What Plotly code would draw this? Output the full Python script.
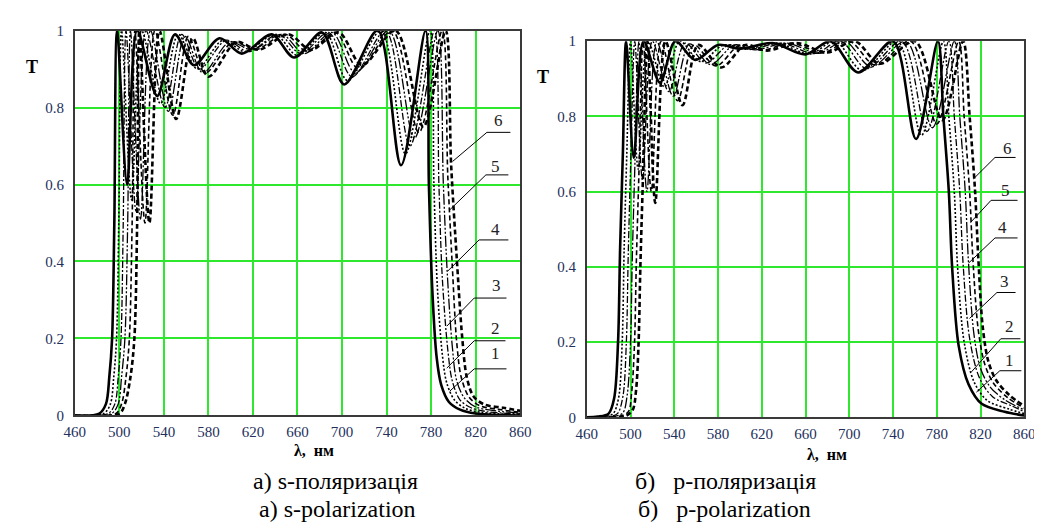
import plotly.graph_objects as go

# ---------------- data: s-polarization (left panel) ----------------
S_X1 = [460, 482, 488, 491, 493.5, 495.5, 498, 507, 516, 534, 550, 567, 590, 610, 637, 657, 682, 702, 732, 753, 775, 778, 781, 785, 789, 796, 806, 820, 860]
S_Y1 = [0, 0.005, 0.03, 0.1, 0.2, 0.5, 1.0, 0.60, 1.0, 0.83, 0.99, 0.91, 0.98, 0.94, 0.99, 0.93, 0.995, 0.86, 1.0, 0.65, 1.0, 0.6, 0.33, 0.15, 0.08, 0.035, 0.015, 0.005, 0]
S_X2 = [460, 486, 492, 495, 497.5, 499.5, 502, 511, 520, 537, 553, 570, 593, 613, 640, 660, 685, 705, 735, 757, 779, 782.5, 785.5, 790, 794, 801, 811, 825, 860]
S_Y2 = [0, 0.005, 0.03, 0.1, 0.2, 0.5, 1.0, 0.56, 1.0, 0.81, 0.99, 0.90, 0.975, 0.945, 0.99, 0.935, 0.995, 0.87, 1.0, 0.68, 1.0, 0.6, 0.34, 0.16, 0.085, 0.04, 0.018, 0.008, 0.002]
S_X3 = [460, 490, 496, 499, 501.5, 503.5, 506, 515, 524, 541, 556, 572, 596, 616, 643, 663, 688, 709, 739, 761, 783, 787, 790, 795, 799, 806, 816, 830, 860]
S_Y3 = [0, 0.005, 0.03, 0.1, 0.2, 0.5, 1.0, 0.53, 1.0, 0.80, 0.99, 0.90, 0.975, 0.945, 0.99, 0.94, 0.995, 0.88, 1.0, 0.70, 1.0, 0.6, 0.36, 0.17, 0.09, 0.04, 0.02, 0.01, 0.004]
S_X4 = [460, 493, 499, 502, 505, 507.5, 510, 519, 528, 544, 559, 575, 599, 619, 646, 666, 691, 712, 742, 765, 786, 791, 794.5, 799, 803, 810, 820, 835, 860]
S_Y4 = [0, 0.005, 0.03, 0.1, 0.2, 0.5, 1.0, 0.51, 1.0, 0.79, 0.985, 0.89, 0.97, 0.95, 0.99, 0.94, 0.995, 0.89, 1.0, 0.72, 1.0, 0.6, 0.37, 0.18, 0.09, 0.045, 0.022, 0.013, 0.006]
S_X5 = [460, 497, 502, 506, 509, 511.5, 514, 523, 532, 548, 562, 577, 602, 622, 649, 669, 694, 715, 745, 769, 790, 795, 799, 803, 807, 814, 824, 840, 860]
S_Y5 = [0, 0.005, 0.03, 0.1, 0.2, 0.5, 1.0, 0.50, 1.0, 0.78, 0.985, 0.89, 0.97, 0.95, 0.99, 0.945, 0.995, 0.90, 1.0, 0.735, 1.0, 0.62, 0.39, 0.19, 0.1, 0.048, 0.025, 0.016, 0.008]
S_X6 = [460, 500, 505, 510, 513.5, 516, 518, 527, 536, 551, 566, 580, 605, 625, 652, 672, 697, 718, 748, 773, 793, 798, 803, 808, 812, 818, 828, 845, 860]
S_Y6 = [0, 0.005, 0.03, 0.1, 0.2, 0.5, 1.0, 0.50, 1.0, 0.77, 0.98, 0.88, 0.97, 0.95, 0.99, 0.95, 0.995, 0.91, 1.0, 0.75, 1.0, 0.65, 0.41, 0.2, 0.1, 0.05, 0.028, 0.02, 0.012]

# ---------------- data: p-polarization (right panel) ----------------
P_X1 = [460, 470, 480, 485, 488.6, 490.5, 493, 496, 503, 512, 527, 541, 559, 580, 600, 630, 660, 683, 708, 740, 761, 781, 786, 791, 794, 800, 809, 821, 842, 860]
P_Y1 = [0, 0.002, 0.01, 0.05, 0.2, 0.45, 0.7, 1.0, 0.69, 1.0, 0.89, 1.0, 0.95, 0.99, 0.98, 0.995, 0.965, 1.0, 0.917, 1.0, 0.74, 1.0, 0.8, 0.6, 0.4, 0.19, 0.088, 0.036, 0.015, 0.005]
P_X2 = [460, 474, 484, 489, 492.4, 494.2, 496.6, 500, 507, 516, 531, 545, 564, 585, 605, 634, 664, 687, 712, 744, 766, 786, 791, 796, 799, 805, 814, 826, 846, 860]
P_Y2 = [0, 0.002, 0.01, 0.05, 0.2, 0.45, 0.7, 1.0, 0.66, 1.0, 0.878, 1.0, 0.946, 0.99, 0.979, 0.995, 0.966, 1.0, 0.922, 1.0, 0.75, 1.0, 0.8, 0.6, 0.4, 0.2, 0.095, 0.045, 0.022, 0.01]
P_X3 = [460, 479, 488, 493, 496.2, 497.9, 500.2, 503.9, 511, 520, 535, 550, 569, 590, 609, 638, 668, 692, 716, 748, 771, 791, 796, 801, 804, 810, 819, 831, 849, 860]
P_Y3 = [0, 0.002, 0.01, 0.055, 0.2, 0.43, 0.68, 1.0, 0.63, 1.0, 0.866, 0.995, 0.942, 0.99, 0.978, 0.995, 0.967, 1.0, 0.927, 1.0, 0.76, 1.0, 0.8, 0.6, 0.41, 0.21, 0.105, 0.055, 0.03, 0.015]
P_X4 = [460, 484, 493, 497, 500, 501.6, 503.8, 507.7, 515, 524, 539, 554, 573, 595, 614, 643, 672, 696, 720, 752, 776, 796, 801, 806, 809, 814, 820, 829, 843, 860]
P_Y4 = [0, 0.002, 0.012, 0.06, 0.2, 0.42, 0.65, 1.0, 0.6, 1.0, 0.854, 0.993, 0.938, 0.99, 0.977, 0.995, 0.968, 1.0, 0.932, 1.0, 0.77, 1.0, 0.8, 0.6, 0.41, 0.22, 0.13, 0.08, 0.045, 0.02]
P_X5 = [460, 490, 498, 501, 503.7, 505.3, 507.4, 511.6, 519, 528, 543, 558, 578, 600, 620, 647, 676, 700, 724, 756, 780, 800, 805, 810, 813, 818, 824, 832, 845, 860]
P_Y5 = [0, 0.003, 0.015, 0.065, 0.2, 0.41, 0.62, 1.0, 0.6, 1.0, 0.842, 0.99, 0.934, 0.99, 0.976, 0.995, 0.969, 1.0, 0.936, 1.0, 0.78, 1.0, 0.8, 0.6, 0.42, 0.23, 0.14, 0.09, 0.052, 0.025]
P_X6 = [460, 495, 502, 505, 507.4, 509, 511, 515.5, 522.6, 532, 547.5, 562, 583, 605, 625, 652, 680, 705, 728, 760, 785, 804, 810, 815, 818, 822, 827, 834, 846, 860]
P_Y6 = [0, 0.003, 0.02, 0.07, 0.2, 0.4, 0.6, 1.0, 0.57, 1.0, 0.83, 0.99, 0.93, 0.99, 0.975, 0.995, 0.97, 1.0, 0.94, 1.0, 0.79, 1.0, 0.8, 0.6, 0.42, 0.24, 0.15, 0.1, 0.06, 0.03]

X_TICKS = [460, 500, 540, 580, 620, 660, 700, 740, 780, 820, 860]
Y_TICKS = [0, 0.2, 0.4, 0.6, 0.8, 1.0]
Y_TICKTEXT = ["0", "0.2", "0.4", "0.6", "0.8", "1"]
CURVE_NAMES = ["1", "2", "3", "4", "5", "6"]

# label callouts: (text, text_x, text_y, hline_x0, hline_x1, hline_y, end_x, end_y)
LABELS_S = [
    ("6", 840.7, 0.766, 830.1, 851.2, 0.7355, 799.3, 0.66),
    ("5", 838.0, 0.647, 829.2, 849.4, 0.625, 796.7, 0.534),
    ("4", 838.0, 0.484, 823.1, 849.4, 0.456, 794.9, 0.375),
    ("3", 838.9, 0.3375, 818.7, 847.7, 0.305, 794.1, 0.232),
    ("2", 838.0, 0.227, 818.7, 846.8, 0.194, 794.1, 0.123),
    ("1", 838.0, 0.161, 818.7, 847.7, 0.121, 796.7, 0.063),
]
LABELS_P = [
    ("6", 844.8, 0.714, 833.2, 852.0, 0.691, 813.5, 0.634),
    ("5", 843.0, 0.603, 829.6, 853.8, 0.577, 810.8, 0.518),
    ("4", 840.3, 0.505, 833.2, 853.8, 0.477, 809.0, 0.41),
    ("3", 842.1, 0.361, 835.0, 852.0, 0.332, 809.9, 0.263),
    ("2", 846.6, 0.242, 838.5, 856.4, 0.209, 811.7, 0.121),
    ("1", 846.6, 0.152, 837.6, 857.3, 0.124, 816.2, 0.067),
]

S_SERIES = [(S_X1, S_Y1), (S_X2, S_Y2), (S_X3, S_Y3), (S_X4, S_Y4), (S_X5, S_Y5), (S_X6, S_Y6)]
P_SERIES = [(P_X1, P_Y1), (P_X2, P_Y2), (P_X3, P_Y3), (P_X4, P_Y4), (P_X5, P_Y5), (P_X6, P_Y6)]

STYLES = [
    dict(dash="solid", width=2.6),
    dict(dash="2px,2px", width=1.6),
    dict(dash="7px,2px,2px,2px", width=1.3),
    dict(dash="11px,2px,2px,2px,2px,2px", width=1.3),
    dict(dash="5px,3px", width=1.6),
    dict(dash="5px,3px", width=2.6),
]

SERIF = "'Liberation Serif', 'DejaVu Serif', serif"
W, H = 1042, 525
def px(x): return x / W
def py(y): return 1 - y / H

fig = go.Figure()
for panel, series in ((1, S_SERIES), (2, P_SERIES)):
    xa = "x" if panel == 1 else "x2"
    ya = "y" if panel == 1 else "y2"
    for name, (xs, ys), st in zip(CURVE_NAMES, series, STYLES):
        fig.add_trace(go.Scatter(
            x=xs, y=ys, xaxis=xa, yaxis=ya, mode="lines", name=name,
            line=dict(color="black", width=st["width"], dash=st["dash"],
                      shape="spline", smoothing=0.9),
            showlegend=False, hoverinfo="skip"))

GRID = "#2ee82e"
TICKFONT = dict(family=SERIF, size=15, color="#24305c")
common_x = dict(range=[460, 860], tickvals=X_TICKS, showgrid=True, gridcolor=GRID,
                gridwidth=1.5, showline=True, linecolor="#3a3a3a", linewidth=1.5,
                mirror=True, zeroline=False, tickfont=TICKFONT, ticks="",
                ticklabelstandoff=2)
common_y = dict(range=[0, 1], tickvals=Y_TICKS, ticktext=Y_TICKTEXT, showgrid=True,
                gridcolor=GRID, gridwidth=1.5, showline=True, linecolor="#3a3a3a",
                linewidth=1.5, mirror=True, zeroline=False, tickfont=TICKFONT,
                ticks="", ticklabelstandoff=6)

fig.update_layout(
    width=W, height=H, autosize=False,
    margin=dict(l=0, r=0, t=0, b=0),
    paper_bgcolor="white", plot_bgcolor="white",
    font=dict(family=SERIF),
    xaxis=dict(domain=[px(57), px(512)], anchor="y", **common_x),
    yaxis=dict(domain=[py(412), py(15)], anchor="x", **common_y),
    xaxis2=dict(domain=[px(580), px(1027)], anchor="y2", **common_x),
    yaxis2=dict(domain=[py(414), py(26)], anchor="x2", **common_y),
)

shapes = []
annotations = []
for labels, xr, yr in ((LABELS_S, "x", "y"), (LABELS_P, "x2", "y2")):
    for (t, tx, ty, hx0, hx1, hy, ex, ey) in labels:
        shapes.append(dict(type="path", xref=xr, yref=yr,
                           path=f"M {ex},{ey} L {hx0},{hy} L {hx1},{hy}",
                           line=dict(color="black", width=1)))
        annotations.append(dict(x=tx, y=ty, xref=xr, yref=yr, text=t, showarrow=False,
                                font=dict(family=SERIF, size=17, color="#222"),
                                xanchor="center", yanchor="middle"))

NB = "\u00a0"
text_items = [
    ("<b>T</b>", 13, 53, 18),
    ("<b>T</b>", 535, 63, 18),
    (f"<b>λ,{NB}{NB}нм</b>", 301, 448, 16),
    (f"<b>λ,{NB}{NB}нм</b>", 825, 452, 16),
    ("а) s-поляризація", 323, 480, 24),
    ("а) s-polarization", 325, 509, 24),
    (f"б){NB}{NB}{NB}р-поляризація", 722, 480, 24),
    (f"б){NB}{NB}{NB}p-polarization", 721, 509, 24),
]
for txt, x, y, size in text_items:
    annotations.append(dict(x=px(x), y=py(y), xref="paper", yref="paper", text=txt,
                            showarrow=False, xanchor="center", yanchor="middle",
                            font=dict(family=SERIF, size=size, color="black")))

fig.update_layout(shapes=shapes, annotations=annotations)
fig.write_html("out.html")
